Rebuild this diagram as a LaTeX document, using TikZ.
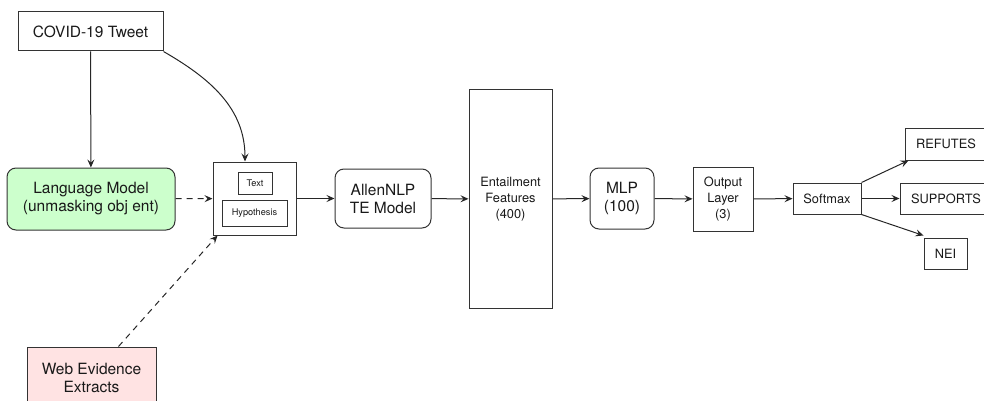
\documentclass[tikz,border=0pt]{standalone}
\usepackage{fontspec}
\setmainfont{TeX Gyre Heros}
\usetikzlibrary{arrows.meta}
\definecolor{lmgreen}{HTML}{CCFFCC}
\definecolor{webpink}{HTML}{FFE3E3}
\definecolor{edge}{HTML}{333333}
\tikzset{
  box/.style={draw=edge, line width=1pt, inner sep=0pt, align=center, text=black!90},
  roundbox/.style={box, rounded corners=9pt},
  big/.style={font=\fontsize{15.5}{18}\selectfont},
  mid/.style={font=\fontsize{12.8}{16}\selectfont},
  tiny/.style={font=\fontsize{9.2}{11}\selectfont},
  link/.style={draw=black!85, line width=1pt, -{Stealth[length=8pt,width=7pt,inset=3pt]}},
  dlink/.style={link, dash pattern=on 6pt off 5pt}
}
\begin{document}
\begin{tikzpicture}[x=1pt, y=-1pt]
        \useasboundingbox (0,0) rectangle (984,401);
        \clip (0,0) rectangle (984,401);
        % inputs
        \node[box, big, minimum width=145pt, minimum height=39pt] (tweet) at (90.5,31.5) {COVID-19 Tweet};
        \node[roundbox, big, fill=lmgreen, minimum width=168pt, minimum height=62pt] (lm) at (91,199) {Language Model\\(unmasking obj ent)};
        \node[box, big, fill=webpink, minimum width=129pt, minimum height=62pt] (web) at (91.5,378) {Web Evidence\\Extracts};
        % text / hypothesis pair
        \node[box, minimum width=83pt, minimum height=73pt] (inbox) at (254.5,198.5) {};
        \node[box, tiny, minimum width=34pt, minimum height=22pt] (txt) at (255,183) {Text};
        \node[box, tiny, minimum width=65pt, minimum height=26pt] (hyp) at (254.5,213) {Hypothesis};
        % model chain
        \node[roundbox, big, minimum width=96pt, minimum height=59pt] (allen) at (383,198.5) {AllenNLP\\TE Model};
        \node[box, mid, minimum width=83pt, minimum height=218pt] (feat) at (510.5,199) {Entailment\\Features\\(400)};
        \node[roundbox, big, minimum width=64pt, minimum height=61pt] (mlp) at (622,198.5) {MLP\\(100)};
        \node[box, mid, minimum width=60pt, minimum height=64pt] (outl) at (723,199) {Output\\Layer\\(3)};
        \node[box, mid, minimum width=68pt, minimum height=31pt] (soft) at (827,198.5) {Softmax};
        % labels
        \node[box, mid, minimum width=82pt, minimum height=32pt] (ref) at (946,144) {REFUTES};
        \node[box, mid, minimum width=92pt, minimum height=31pt] (sup) at (946,198.5) {SUPPORTS};
        \node[box, mid, minimum width=43pt, minimum height=31pt] (nei) at (945.5,253.5) {NEI};
        % connectors
        \draw[link] (tweet) -- (lm);
        \draw[link] (tweet.south east) to[out=-30, in=90] ([xshift=-9.5pt]inbox.north);
        \draw[dlink] (lm) -- (inbox);
        \draw[dlink] ([xshift=27pt]web.north) -- ([xshift=5pt]inbox.south west);
        \draw[link] (inbox) -- (allen);
        \draw[link] (allen) -- (feat);
        \draw[link] (feat) -- (mlp);
        \draw[link] (mlp) -- (outl);
        \draw[link] (outl) -- (soft);
        \draw[link] (soft.north east) -- ([xshift=4pt]ref.south west);
        \draw[link] (soft) -- (sup);
        \draw[link] (soft.south east) -- ([yshift=2pt]nei.north west);
\end{tikzpicture}
\end{document}
